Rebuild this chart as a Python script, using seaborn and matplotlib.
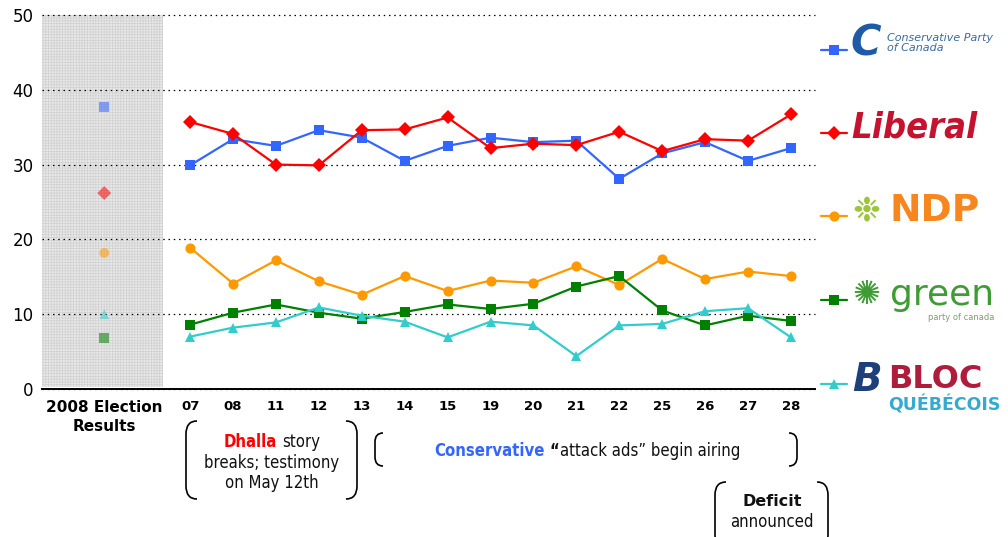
import matplotlib
matplotlib.use("Agg")
import matplotlib.pyplot as plt
from matplotlib.path import Path
from matplotlib.patches import PathPatch
from matplotlib.legend import Legend
import numpy as np
import pandas as pd
import seaborn as sns

# ---------------- data ----------------
dates = ["07", "08", "11", "12", "13", "14", "15", "19", "20", "21", "22", "25", "26", "27", "28"]
parties = ["Conservative", "Liberal", "NDP", "Green", "Bloc"]
conservative = [29.9, 33.4, 32.5, 34.6, 33.6, 30.5, 32.5, 33.6, 33.0, 33.2, 28.1, 31.5, 33.0, 30.5, 32.2]
liberal = [35.7, 34.1, 30.0, 29.9, 34.6, 34.7, 36.3, 32.2, 32.8, 32.6, 34.4, 31.8, 33.4, 33.2, 36.7]
ndp = [18.9, 14.1, 17.2, 14.4, 12.6, 15.1, 13.1, 14.5, 14.2, 16.4, 13.9, 17.4, 14.7, 15.7, 15.1]
green = [8.6, 10.2, 11.3, 10.2, 9.4, 10.3, 11.3, 10.7, 11.4, 13.7, 15.1, 10.5, 8.5, 9.8, 9.1]
bloc = [7.0, 8.2, 8.9, 10.9, 9.8, 9.0, 6.9, 9.0, 8.5, 4.4, 8.5, 8.7, 10.4, 10.8, 6.9]
election_2008 = [37.7, 26.2, 18.2, 6.8, 10.0]
election_label = "2008 Election\nResults"
y_ticks = [0, 10, 20, 30, 40, 50]

# ---------------- style ----------------
W, H = 1008, 537
sns.set_theme(style="white")
plt.rcParams["font.family"] = ["DejaVu Sans"]
plt.rcParams["hatch.linewidth"] = 0.5
plt.rcParams["hatch.color"] = "#cfcfcf"

palette = {"Conservative": "#3366ff", "Liberal": "#ff0000", "NDP": "#ff9900",
           "Green": "#008000", "Bloc": "#33cccc"}
markers = {"Conservative": "s", "Liberal": "D", "NDP": "o", "Green": "s", "Bloc": "^"}

fig = plt.figure(figsize=(W / 100, H / 100), dpi=100)
ax = fig.add_axes([42 / W, 1 - 389 / H, (815 - 42) / W, (389 - 15) / H])

x_pos = list(range(len(dates)))
election_x = -2

long = pd.DataFrame({
    "x": np.tile(x_pos, len(parties)),
    "share": np.concatenate([conservative, liberal, ndp, green, bloc]),
    "party": np.repeat(parties, len(dates)),
})

# shaded "election" column
ax.axvspan(-3.45, -0.63, ymin=0.006, ymax=1.0, facecolor="#e8e8e8",
           edgecolor="#d0d0d0", hatch="++++++", linewidth=0, zorder=0.2)

sns.lineplot(data=long, x="x", y="share", hue="party", style="party",
             hue_order=parties, style_order=parties, palette=palette,
             markers=markers, dashes=False, markersize=7.3, linewidth=1.6,
             markeredgewidth=0, ax=ax, zorder=3)

sns.scatterplot(x=[election_x] * len(parties), y=election_2008, hue=parties,
                style=parties, hue_order=parties, style_order=parties,
                palette=palette, markers=markers, s=50, alpha=0.55,
                linewidth=0, legend=False, ax=ax, zorder=3)

ax.set_xlim(-3.45, 14.56)
ax.set_ylim(0, 50)
ax.set_yticks(y_ticks)
ax.set_yticklabels([str(v) for v in y_ticks], fontsize=12, color="black")
ax.set_xticks([election_x] + x_pos)
ax.set_xticklabels([election_label] + dates, fontweight="bold", color="black")
for i, lab in enumerate(ax.get_xticklabels()):
    lab.set_fontsize(11 if i == 0 else 9.5)
    if i == 0:
        lab.set_linespacing(1.35)
ax.tick_params(axis="both", length=0)
ax.tick_params(axis="y", pad=6)
ax.tick_params(axis="x", pad=8)
ax.set_xlabel("")
ax.set_ylabel("")

ax.set_axisbelow(True)
ax.yaxis.grid(True, linestyle=(0, (1.2, 3.0)), color="black", linewidth=0.9)
for gl in ax.get_ygridlines():
    gl.set_clip_on(False)
ax.xaxis.grid(False)
for s in ["left", "top", "right"]:
    ax.spines[s].set_visible(False)
ax.spines["bottom"].set_color("black")
ax.spines["bottom"].set_linewidth(1.4)

# ---------------- legend (logo stand-ins) ----------------
handles, _ = ax.get_legend_handles_labels()
if ax.get_legend() is not None:
    ax.get_legend().remove()
handles = handles[-len(parties):]

logo_labels = ["C", "Liberal", "NDP", "green", "BLOC"]
logo_styles = [
    dict(color="#1f5aa6", fontsize=30, fontweight="bold", fontstyle="italic"),
    dict(color="#c4122f", fontsize=26, fontweight="bold", fontstyle="italic", fontstretch="condensed"),
    dict(color="#f7861d", fontsize=27, fontweight="heavy"),
    dict(color="#3f9c35", fontsize=26, fontweight="normal"),
    dict(color="#b01c3c", fontsize=23, fontweight="heavy"),
]
text_pad = [0.25, 0.25, 3.0, 3.1, 2.9]
icons = [None, None, ("\u2749", "#9dc43a", 24), ("\u273a", "#3f9c35", 24), ("B", "#1d3f7a", 28)]
legend_y = [43, 128, 211, 295, 380]
for i, h in enumerate(handles):
    leg = Legend(ax, [h], [logo_labels[i]], loc="center left",
                 bbox_to_anchor=(821 / W, 1 - legend_y[i] / H),
                 bbox_transform=fig.transFigure, frameon=False, borderpad=0,
                 borderaxespad=0, handlelength=1.9, handletextpad=text_pad[i],
                 prop={"size": 10})
    leg.set_zorder(5)
    ax.add_artist(leg)
    t = leg.get_texts()[0]
    t.set(**logo_styles[i])
    if icons[i] is not None:
        glyph, col, size = icons[i]
        extra = dict(fontweight="heavy", fontstyle="italic") if glyph == "B" else {}
        fig.text(852 / W, 1 - legend_y[i] / H, glyph, ha="left", va="center",
                 color=col, fontsize=size, **extra)
    if i == 0:
        ax.annotate("Conservative Party\nof Canada", xy=(1, 0.5), xycoords=t,
                    xytext=(4, 0), textcoords="offset points", ha="left",
                    va="center", fontsize=8, fontstyle="italic", color="#3b6a9e",
                    linespacing=1.0, zorder=6, annotation_clip=False)
    elif i == 3:
        ax.annotate("party of canada", xy=(1, 0), xycoords=t, xytext=(0, -1),
                    textcoords="offset points", ha="right", va="top",
                    fontsize=6, color="#7aa06e", zorder=6, annotation_clip=False)
    elif i == 4:
        ax.annotate("QUÉBÉCOIS", xy=(0, 0), xycoords=t, xytext=(0, 0),
                    textcoords="offset points", ha="left", va="top",
                    fontsize=12.5, fontweight="bold", color="#35a9cf",
                    zorder=6, annotation_clip=False)

# ---------------- annotations ----------------
def fx(px):
    return px / W


def fy(py):
    return 1 - py / H


def bracket(x, y0, y1, side, r=11, ry=13):
    d = side * r
    verts = [(x + d, y0), (x, y0), (x, y0 + ry), (x, y1 - ry), (x, y1), (x + d, y1)]
    codes = [Path.MOVETO, Path.CURVE3, Path.CURVE3, Path.LINETO, Path.CURVE3, Path.CURVE3]
    verts = [(fx(a), fy(b)) for a, b in verts]
    fig.add_artist(PathPatch(Path(verts, codes), transform=fig.transFigure,
                             fill=False, lw=1.2, ec="black", clip_on=False))


renderer = fig.canvas.get_renderer()
NARROW = dict(family="DejaVu Sans", fontstretch="condensed")


def text_width(s, props):
    t = fig.text(0, 0, s, **props)
    w = t.get_window_extent(renderer).width
    t.remove()
    return w


def rich_line(parts, xc, y, base):
    items = []
    total = 0
    for s, props, gap in parts:
        p = dict(base)
        p.update(props)
        w = text_width(s, p)
        items.append((s, p, gap, w))
        total += gap + w
    x = xc - total / 2
    for s, p, gap, w in items:
        x += gap
        fig.text(fx(x), fy(y), s, ha="left", va="center", **p)
        x += w


base = dict(fontsize=12, color="#111111", **NARROW)
sp = text_width("x x", base) - text_width("xx", base)

bracket(186, 421, 499, +1)
bracket(357, 421, 499, -1)
rich_line([("Dhalla", dict(color="#ff0000", fontweight="bold"), 0),
           ("story", {}, sp)], 272, 442, base)
rich_line([("breaks; testimony", {}, 0)], 272, 463, base)
rich_line([("on May 12th", {}, 0)], 272, 483, base)

bracket(375, 433, 466, +1, r=8, ry=9)
bracket(797, 433, 466, -1, r=8, ry=9)
rich_line([("Conservative", dict(color="#3366ff", fontweight="bold"), 0),
           ("\u201c", dict(fontweight="bold"), sp),
           ("attack ads\u201d begin airing", {}, 0.5)], 587, 451, base)

bracket(715, 482, 548, +1)
bracket(828, 482, 548, -1)
rich_line([("Deficit", dict(fontweight="bold", fontstretch="normal", fontsize=11.5), 0)], 772, 501, base)
rich_line([("announced", {}, 0)], 772, 522, base)

fig.savefig("out.png", dpi=100)
